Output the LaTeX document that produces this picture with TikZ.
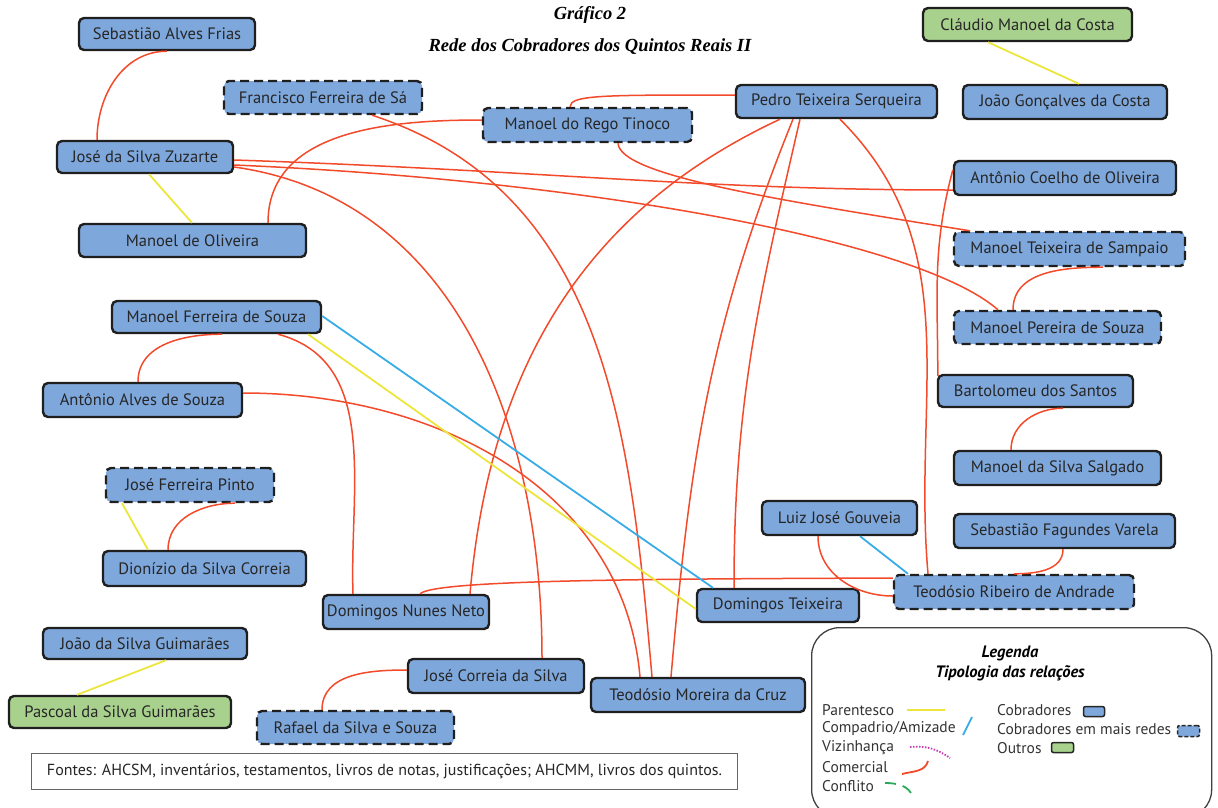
\documentclass[tikz,border=0pt]{standalone}
\usepackage{fontspec}
\setmainfont{PT Sans}
\newfontfamily\titlefont{Liberation Serif}
\usetikzlibrary{calc}

\definecolor{cobblue}{RGB}{126,167,220}
\definecolor{outgreen}{RGB}{169,209,142}
\definecolor{comred}{RGB}{242,74,42}
\definecolor{parYellow}{RGB}{236,230,60}
\definecolor{compBlue}{RGB}{55,172,230}
\definecolor{vizMag}{RGB}{200,60,180}
\definecolor{confGreen}{RGB}{40,170,90}

\tikzset{
  person/.style={draw=black!88, line width=2.4pt, rounded corners=5pt, fill=cobblue,
    font=\fontsize{16.5}{18}\selectfont, text=black!85, inner sep=0pt},
  multi/.style={person, dash pattern=on 9pt off 5pt},
  other/.style={person, fill=outgreen},
  com/.style={draw=comred, line width=1.5pt},
  par/.style={draw=parYellow, line width=1.8pt},
  cmp/.style={draw=compBlue, line width=1.8pt},
  legtxt/.style={font=\fontsize{15.5}{17}\selectfont, text=black!80, anchor=west, inner sep=0pt},
  ttl/.style={font=\titlefont\bfseries\itshape\fontsize{18.5}{20}\selectfont, inner sep=0pt},
  legttl/.style={font=\bfseries\itshape\fontsize{16.5}{18}\selectfont, inner sep=0pt},
}

\begin{document}
\begin{tikzpicture}[x=1pt,y=1pt]
\useasboundingbox (0,0) rectangle (1218,-807);
\clip (0,0) rectangle (1218,-807);

% title
\node[ttl] (t1) at (590,-15) {Gráfico 2};
\node[ttl] (t2) at (590,-47) {Rede dos Cobradores dos Quintos Reais II};

% nodes
\node[person, minimum width=176pt, minimum height=32pt] (sebA) at (167,-34) {Sebastião Alves Frias};
\node[multi, minimum width=198pt, minimum height=33pt] (fran) at (323,-97.5) {Francisco Ferreira de Sá};
\node[multi, minimum width=209pt, minimum height=34pt] (tino) at (587.5,-125) {Manoel do Rego Tinoco};
\node[person, minimum width=201pt, minimum height=33pt] (pedro) at (836.5,-101.5) {Pedro Teixeira Serqueira};
\node[other, minimum width=209pt, minimum height=33pt] (claudio) at (1027.5,-24.5) {Cláudio Manoel da Costa};
\node[person, minimum width=204pt, minimum height=34pt] (joaoG) at (1065,-102) {João Gonçalves da Costa};
\node[person, minimum width=176pt, minimum height=32pt] (jsz) at (145,-157) {José da Silva Zuzarte};
\node[person, minimum width=222pt, minimum height=34pt] (aco) at (1065,-178) {Antônio Coelho de Oliveira};
\node[person, minimum width=227pt, minimum height=33pt] (mol) at (192.5,-240.5) {Manoel de Oliveira};
\node[multi, minimum width=231pt, minimum height=34pt] (mts) at (1069.5,-249) {Manoel Teixeira de Sampaio};
\node[person, minimum width=209pt, minimum height=32pt] (mfs) at (216.5,-317) {Manoel Ferreira de Souza};
\node[multi, minimum width=207pt, minimum height=33pt] (mps) at (1057.5,-327.5) {Manoel Pereira de Souza};
\node[person, minimum width=199pt, minimum height=34pt] (aas) at (142.5,-400) {Antônio Alves de Souza};
\node[person, minimum width=195pt, minimum height=32pt] (bart) at (1035.5,-391) {Bartolomeu dos Santos};
\node[multi, minimum width=168pt, minimum height=34pt] (jfp) at (190,-485) {José Ferreira Pinto};
\node[person, minimum width=207pt, minimum height=34pt] (msal) at (1057.5,-468) {Manoel da Silva Salgado};
\node[person, minimum width=155pt, minimum height=34pt] (luiz) at (839.5,-518) {Luiz José Gouveia};
\node[person, minimum width=221pt, minimum height=34pt] (sfv) at (1064.5,-531) {Sebastião Fagundes Varela};
\node[person, minimum width=203pt, minimum height=35pt] (dion) at (204.5,-568.5) {Dionízio da Silva Correia};
\node[multi, minimum width=240pt, minimum height=34pt] (tra) at (1014,-592) {Teodósio Ribeiro de Andrade};
\node[person, minimum width=166pt, minimum height=34pt] (dnn) at (406,-612) {Domingos Nunes Neto};
\node[person, minimum width=162pt, minimum height=33pt] (dt) at (778,-605.5) {Domingos Teixeira};
\node[person, minimum width=204pt, minimum height=31pt] (jsg) at (145,-643.5) {João da Silva Guimarães};
\node[person, minimum width=176pt, minimum height=34pt] (jcs) at (496,-676) {José Correia da Silva};
\node[person, minimum width=214pt, minimum height=34pt] (tmc) at (698,-695) {Teodósio Moreira da Cruz};
\node[other, minimum width=222pt, minimum height=32pt] (psg) at (120,-712) {Pascoal da Silva Guimarães};
\node[multi, minimum width=197pt, minimum height=33pt] (rss) at (355.5,-727.5) {Rafael da Silva e Souza};

% commercial (red)
\begin{scope}[com]
\draw (sebA.south) to[out=180,in=90] ([xshift=-48pt]jsz.north);
\draw ([xshift=49pt]fran.south) to[out=-18,in=95] ([xshift=-46pt]tmc.north);
\draw ([yshift=-3pt]jsz.east) .. controls +(300pt,-10pt) and +(-250pt,0pt) .. ([yshift=-12pt]aco.west);
\draw ([yshift=-8pt]jsz.east) .. controls +(350pt,-15pt) and +(-80pt,70pt) .. ([xshift=-59.5pt]mps.north);
\draw ([yshift=-10pt]jsz.east) to[out=-8,in=90] ([xshift=46pt]jcs.north);
\draw ([xshift=30.5pt]tino.south) .. controls +(2pt,-32pt) and +(-200pt,32pt) .. ([xshift=-99.5pt]mts.north);
\draw ([yshift=6.5pt]pedro.west) .. controls +(-130pt,0pt) and +(0pt,12pt) .. ([xshift=-17.5pt]tino.north);
\draw ([xshift=75.5pt]mol.north) to[out=90,in=180] ([yshift=5pt]tino.west);
\draw ([xshift=-56.5pt]pedro.south) to[out=-155,in=85] ([xshift=64pt]dnn.north);
\draw ([xshift=-43.5pt]pedro.south) to[out=-112,in=85] ([xshift=-27pt]tmc.north);
\draw ([xshift=-36.5pt]pedro.south) to[out=-103,in=90] ([xshift=-44pt]dt.north);
\draw ([xshift=3.5pt]pedro.south) to[out=-45,in=95] ([xshift=-86pt]tra.north);
\draw ([xshift=5.5pt]mfs.south) to[out=180,in=90] ([xshift=-4.5pt]aas.north);
\draw ([xshift=61.5pt]mfs.south) to[out=-15,in=92] ([xshift=-53pt]dnn.north);
\draw ([yshift=7pt]aas.east) to[out=0,in=95] ([xshift=-58pt]tmc.north);
\draw ([xshift=14pt]dnn.north) .. controls +(15pt,14pt) and +(-250pt,-1pt) .. ([yshift=14pt]tra.west);
\draw ([xshift=-21.5pt]luiz.south) to[out=-90,in=180] ([yshift=-4pt]tra.west);
\draw ([xshift=-1.5pt]sfv.south) to[out=-90,in=0] (tra.north);
\draw ([xshift=27.5pt]bart.south) to[out=180,in=90] ([xshift=-46.5pt]msal.north);
\draw ([xshift=1pt,yshift=-2pt]bart.north west) to[out=90,in=-105] ([yshift=8pt]aco.west);
\draw ([xshift=33.5pt]mts.south) to[out=180,in=90] ([xshift=-44.5pt]mps.north);
\draw ([xshift=-36.5pt]dion.north) to[out=90,in=180] ([xshift=45pt]jfp.south);
\draw ([yshift=6pt]jcs.west) to[out=180,in=90] ([xshift=-33.5pt]rss.north);
\end{scope}

% kinship (yellow)
\draw[par] ([xshift=-39.5pt]claudio.south) -- ([xshift=14pt]joaoG.north);
\draw[par] ([xshift=4pt]jsz.south) -- ([xshift=-0.5pt]mol.north);
\draw[par] ([xshift=91.5pt]mfs.south) -- ([yshift=-3.5pt]dt.west);
\draw[par] ([xshift=-68pt]jfp.south) -- ([xshift=-56.5pt]dion.north);
\draw[par] ([xshift=21pt]jsg.south) -- ([xshift=-43pt]psg.north);

% compadrio (blue)
\draw[cmp] ([yshift=1pt]mfs.east) -- ([xshift=-65pt]dt.north);
\draw[cmp] ([xshift=20.5pt]luiz.south) -- ([xshift=-106pt]tra.north);

% sources box
\node[draw=black!60, line width=1pt, fill=white, minimum width=706pt, minimum height=36pt,
  anchor=north west, font=\fontsize{16}{18}\selectfont, text=black!85, inner sep=0pt] (fontes) at (31,-753)
  {Fontes: AHCSM, inventários, testamentos, livros de notas, justificações; AHCMM, livros dos quintos.};

% legend
\node[draw=black!75, line width=1.3pt, rounded corners=28pt, minimum width=400pt, minimum height=190pt,
  anchor=north west, inner sep=0pt] (legend) at (811,-627) {};
\node[legttl] (lg1) at (1010,-653) {Legenda};
\node[legttl] (lg2) at (1010,-673) {Tipologia das relações};
\node[legtxt] (lpar) at (822,-710) {Parentesco};
\node[legtxt] (lcmp) at (822,-729) {Compadrio/Amizade};
\node[legtxt] (lviz) at (822,-748) {Vizinhança};
\node[legtxt] (lcom) at (822,-767) {Comercial};
\node[legtxt] (lcon) at (822,-786) {Conflito};
\coordinate (ya) at (907,-710); \coordinate (yb) at (945,-710);
\draw[par] (ya) -- (yb);
\coordinate (ba) at (963,-735); \coordinate (bb) at (972,-717);
\draw[cmp] (ba) -- (bb);
\coordinate (ma) at (910,-747); \coordinate (mb) at (950,-758);
\draw[draw=vizMag, line width=1.8pt, dash pattern=on 1.5pt off 1.5pt] (ma) to[out=5,in=145] (mb);
\coordinate (ra) at (902,-774); \coordinate (rb) at (928,-761);
\draw[com, line width=1.8pt] (ra) to[out=15,in=-105] (rb);
\coordinate (ga) at (885,-783); \coordinate (gb) at (913,-797);
\draw[draw=confGreen, line width=1.8pt, dash pattern=on 11pt off 7pt] (ga) to[out=0,in=110] (gb);

\node[legtxt] (lcob) at (997,-710) {Cobradores};
\node[legtxt] (lcobm) at (997,-729) {Cobradores em mais redes};
\node[legtxt] (lout) at (997,-748) {Outros};
\node[draw=black!85, line width=1.5pt, fill=cobblue, rounded corners=2pt, minimum width=21pt, minimum height=10pt, inner sep=0pt] (sb1) at (1094,-711.5) {};
\node[draw=black!85, line width=1.5pt, fill=cobblue, rounded corners=2pt, dash pattern=on 4pt off 2pt, minimum width=22pt, minimum height=11pt, inner sep=0pt] (sb2) at (1188.5,-731) {};
\node[draw=black!85, line width=1.5pt, fill=outgreen, rounded corners=2pt, minimum width=22pt, minimum height=10pt, inner sep=0pt] (sb3) at (1062.5,-747.5) {};
\end{tikzpicture}
\end{document}
